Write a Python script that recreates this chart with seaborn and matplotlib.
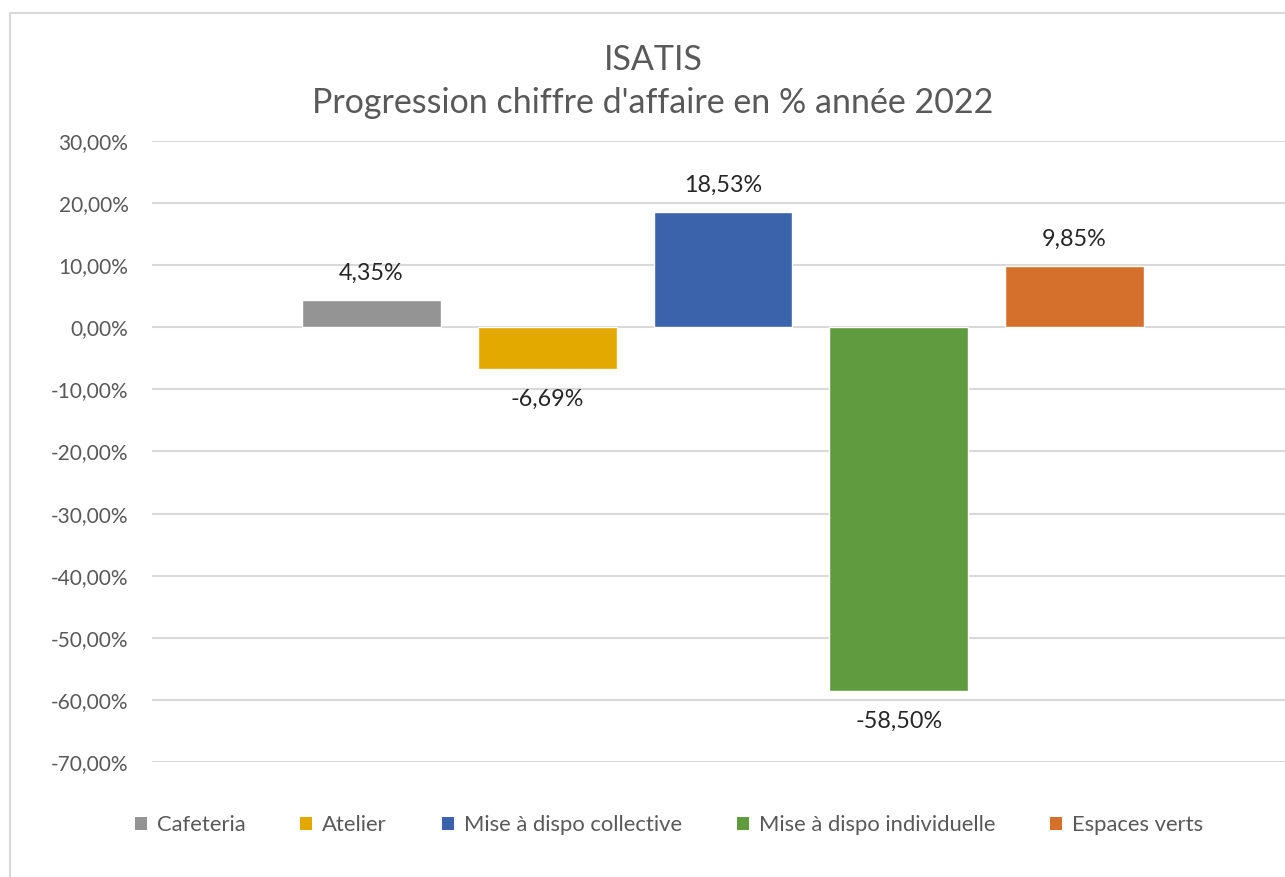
import numpy as np
import seaborn as sns
import matplotlib.pyplot as plt
from matplotlib.patches import Rectangle, Patch
from matplotlib.ticker import FuncFormatter, MultipleLocator

# Data
categories = ["Cafeteria", "Atelier", "Mise à dispo collective",
              "Mise à dispo individuelle", "Espaces verts"]
values = [4.35, -6.69, 18.53, -58.50, 9.85]
colors = ["#949494", "#E3A900", "#3A63AC", "#619B3F", "#D5702C"]

sns.set_theme(style="white")
plt.rcParams['font.family'] = ['Lato', 'DejaVu Sans']

fig = plt.figure(figsize=(12.85, 8.77), dpi=100)
ax = fig.add_axes([152 / 1285, 1 - 762 / 877, 1 - 152 / 1285, (762 - 141) / 877])

# chart border
fig.patches.append(Rectangle((10 / 1285, -0.1), 1.2, 1.1 - 13 / 877,
                             transform=fig.transFigure, fill=False,
                             edgecolor="#d9d9d9", linewidth=1.5))

sns.barplot(x=categories, y=values, hue=categories, palette=colors,
            width=0.79, dodge=False, legend=False, ax=ax, saturation=1,
            zorder=3)

ax.set_ylim(-70, 30)
ax.set_xlim(-1.249, 5.198)
ax.yaxis.set_major_locator(MultipleLocator(10))
ax.yaxis.set_major_formatter(FuncFormatter(lambda v, p: f"{v:.2f}%".replace(".", ",")))
ax.grid(axis="y", color="#d9d9d9", linewidth=1.5, zorder=0)
ax.set_axisbelow(True)
for s in ax.spines.values():
    s.set_visible(False)
ax.set_xticks([])
ax.set_xlabel("")
ax.tick_params(axis="y", length=0, pad=17, labelsize=15, labelcolor="#595959")

for i, v in enumerate(values):
    off = 19.5 if v >= 0 else -22
    ax.annotate(f"{v:.2f}%".replace(".", ","), (i, v), xytext=(0, off),
                textcoords="offset points", ha="center", va="center",
                fontsize=16.8, color="#262626")

fig.text(653 / 1285, 1 - 60 / 877, "ISATIS", ha="center", va="center",
         fontsize=24.5, color="#595959")
fig.text(653 / 1285, 1 - 103 / 877, "Progression chiffre d'affaire en % année 2022",
         ha="center", va="center", fontsize=24.5, color="#595959")

handles = [Patch(facecolor=c, edgecolor="none") for c in colors]
fig.legend(handles, categories, loc="center", bbox_to_anchor=(669 / 1285, 1 - 825 / 877),
           ncol=5, frameon=False, fontsize=15.8, labelcolor="#595959",
           handlelength=0.55, handleheight=0.55, handletextpad=0.45, columnspacing=2.5)

fig.savefig("out.png", dpi=100)
